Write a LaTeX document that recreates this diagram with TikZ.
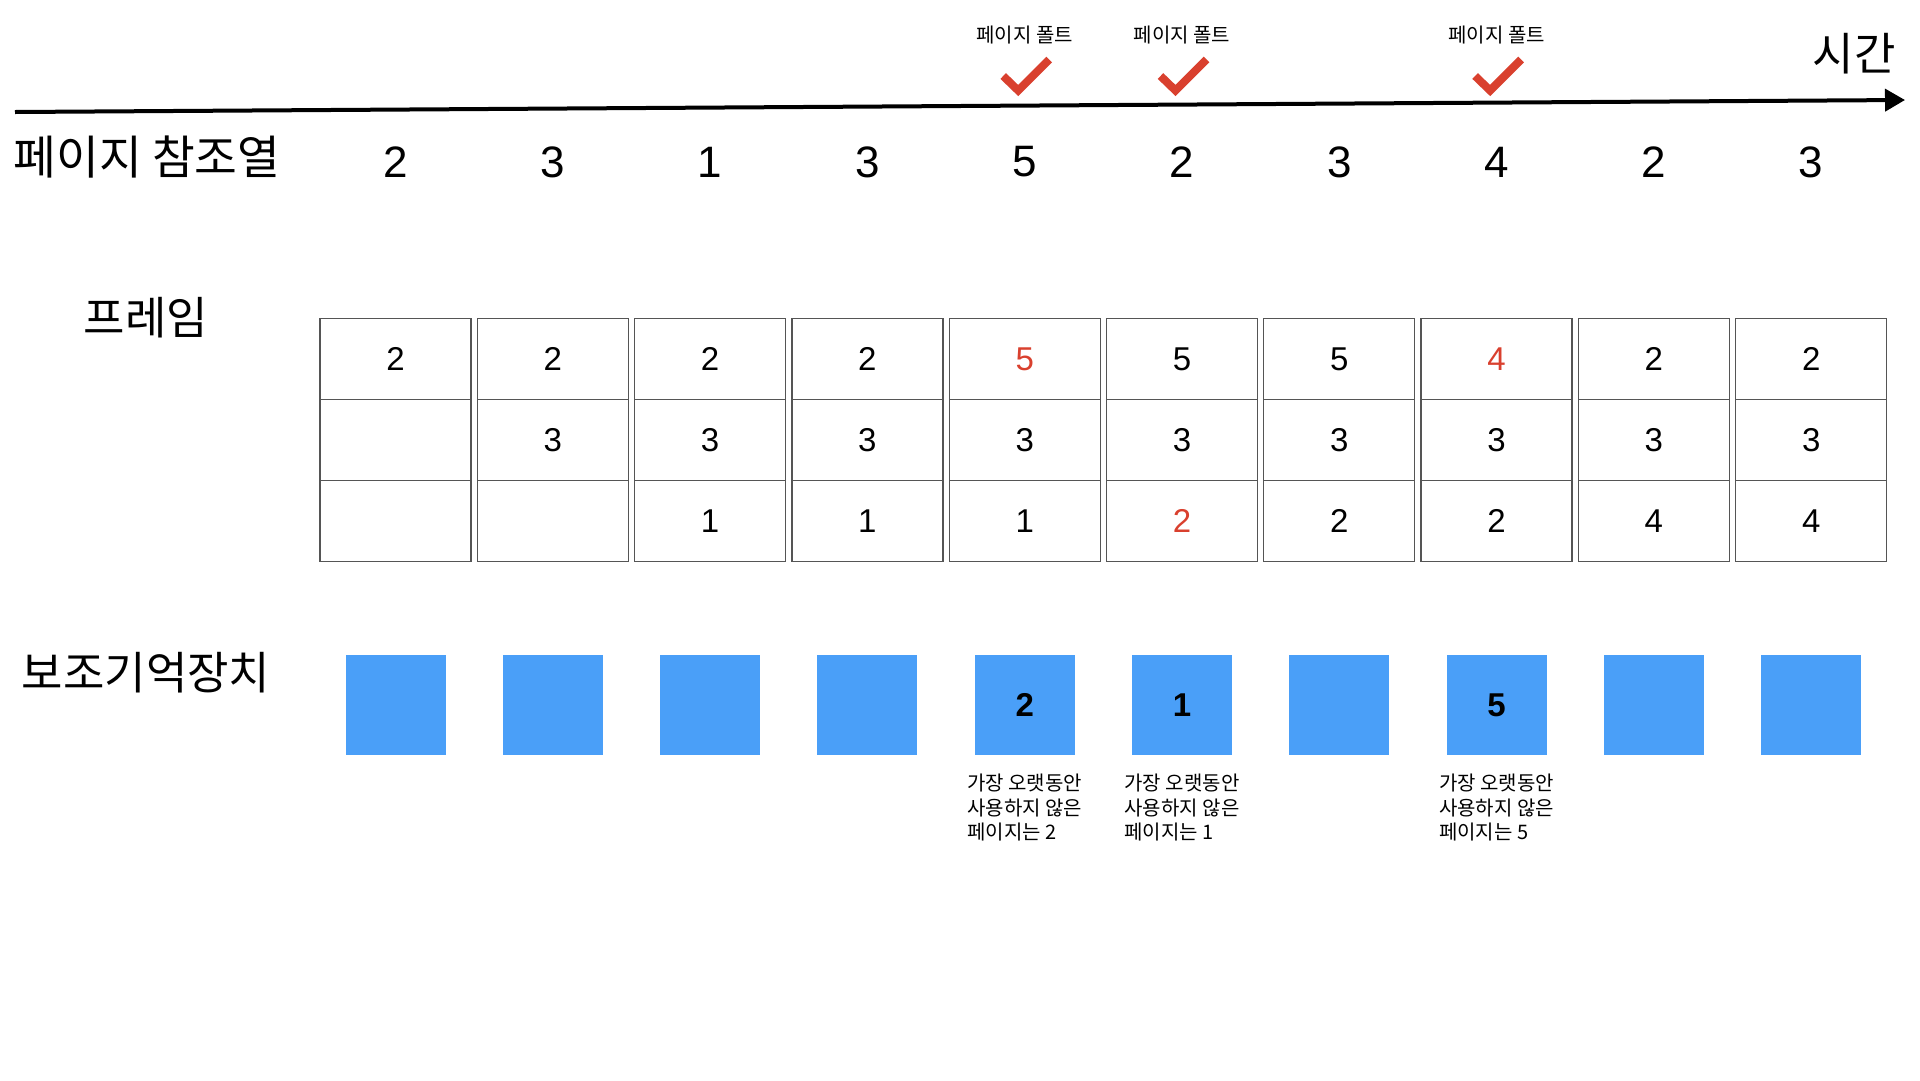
\documentclass[tikz,border=0pt]{standalone}
\usepackage{fontspec}
\setmainfont{Liberation Sans}
\newfontfamily\kr{Noto Sans CJK KR}
\usetikzlibrary{arrows.meta}
\definecolor{faultred}{RGB}{217,64,46}
\definecolor{diskblue}{RGB}{74,159,248}
\definecolor{cellline}{RGB}{85,85,85}
\begin{document}
\begin{tikzpicture}[x=1pt,y=-1pt,
  heading/.style={inner sep=0pt, font=\kr\fontsize{45}{50}\selectfont},
  refnum/.style={inner sep=0pt, font=\fontsize{44}{50}\selectfont},
  faultlbl/.style={inner sep=0pt, font=\kr\fontsize{20}{24}\selectfont},
  checkmark/.style={draw=faultred, line width=8pt, miter limit=10},
  cell/.style={draw=cellline, line width=1.3pt, minimum width=151pt, minimum height=81pt, inner sep=0pt, font=\fontsize{33}{38}\selectfont},
  disk/.style={fill=diskblue, minimum width=100pt, minimum height=100pt, inner sep=0pt, font=\bfseries\fontsize{33}{38}\selectfont},
  caption/.style={inner sep=0pt, align=left, anchor=north, font=\kr\fontsize{20}{24.5}\selectfont},
  timeline/.style={line width=4pt, -{Triangle[length=20pt,width=22pt]}}
]
\useasboundingbox (0,0) rectangle (1920,1080);

% time axis
\coordinate (tl) at (15,112);
\coordinate (tr) at (1905,100);
\draw[timeline] (tl) -- (tr);
\node[heading] (time) at (1854,54) {시간};

% row labels
\node[heading, font=\kr\fontsize{46.5}{50}\selectfont] (reflbl) at (147,157) {페이지 참조열};
\node[heading] (framelbl) at (146,318) {프레임};
\node[heading] (disklbl) at (146,673) {보조기억장치};

% reference string
\foreach \i/\v in {1/2,2/3,3/1,4/3,5/5,6/2,7/3,8/4,9/2,10/3}{
  \node[refnum] (ref\i) at ({395.5+157.3*(\i-1)},162) {\v};
}

% page faults
\foreach \i in {5,6,8}{
  \pgfmathsetmacro{\cx}{395.5+157.3*(\i-1)}
  \node[faultlbl] (fault\i) at (\cx,35) {페이지 폴트};
  \draw[checkmark] (\cx-21.5,76) -- (\cx-6.5,90.5) -- (\cx+24.5,59.5);
}

% frames
\foreach \i/\a/\ac/\b/\c/\cc in {
  1/2/black/{}/{}/black,
  2/2/black/3/{}/black,
  3/2/black/3/1/black,
  4/2/black/3/1/black,
  5/5/faultred/3/1/black,
  6/5/black/3/2/faultred,
  7/5/black/3/2/black,
  8/4/faultred/3/2/black,
  9/2/black/3/4/black,
  10/2/black/3/4/black}{
  \pgfmathsetmacro{\cx}{395.5+157.3*(\i-1)}
  \node[cell, text=\ac] (cell\i-1) at (\cx,359) {\a};
  \node[cell] (cell\i-2) at (\cx,440) {\b};
  \node[cell, text=\cc] (cell\i-3) at (\cx,521) {\c};
}

% secondary storage
\foreach \i/\v in {1/{},2/{},3/{},4/{},5/2,6/1,7/{},8/5,9/{},10/{}}{
  \node[disk] (disk\i) at ({395.5+157.3*(\i-1)},705) {\v};
}

% captions
\foreach \i/\v in {5/2,6/1,8/5}{
  \node[caption] (cap\i) at ({395.5+157.3*(\i-1)},774) {가장 오랫동안\\사용하지 않은\\페이지는 \v};
}
\end{tikzpicture}
\end{document}
